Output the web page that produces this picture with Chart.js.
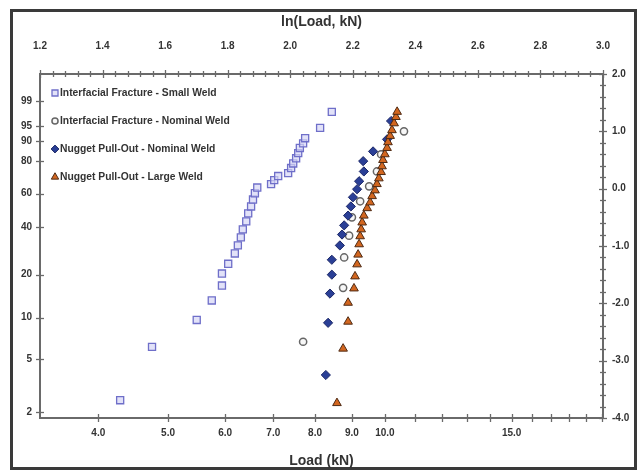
<!DOCTYPE html>
<html>
<head>
<meta charset="utf-8">
<script src="https://cdn.jsdelivr.net/npm/chart.js@4/dist/chart.umd.min.js"></script>
<style>
  html, body { margin: 0; padding: 0; background: #fff; }
  #wrap { position: relative; width: 643px; height: 476px; }
  #frame { position: absolute; left: 10px; top: 9px; width: 621px; height: 455px; border: 3px solid #3a3a3a; }
  canvas { position: absolute; left: 0; top: 0; }
</style>
</head>
<body>
<div id="wrap">
  <div id="frame"></div>
  <canvas id="weibull" width="643" height="476"></canvas>
</div>
<script>
// Failure loads (kN) and Weibull ordinate ln(-ln(1-F)) for each weld group
const ifSmallLoad = [4.29, 4.75, 5.48, 5.75, 5.94, 5.94, 6.06, 6.19, 6.25, 6.31, 6.35, 6.42, 6.46, 6.52, 6.56,
                     6.60, 6.65, 6.95, 7.02, 7.11, 7.34, 7.41, 7.46, 7.53, 7.58, 7.62, 7.70, 7.75, 8.13, 8.44];
const ifSmallW    = [-3.69, -2.76, -2.29, -1.95, -1.69, -1.48, -1.31, -1.13, -0.99, -0.85, -0.71, -0.57, -0.43, -0.31, -0.19,
                     -0.08, 0.02, 0.08, 0.15, 0.22, 0.27, 0.36, 0.44, 0.53, 0.62, 0.71, 0.79, 0.88, 1.06, 1.34];

const ifNominalLoad = [7.70, 8.75, 8.78, 8.92, 9.00, 9.24, 9.51, 9.75, 9.88, 10.63];
const ifNominalW    = [-2.67, -1.73, -1.20, -0.82, -0.50, -0.22, 0.04, 0.30, 0.60, 1.00];

const poNominalLoad = [8.28, 8.34, 8.39, 8.44, 8.44, 8.66, 8.72, 8.78, 8.89, 8.97, 9.03, 9.15, 9.21, 9.35, 9.33,
                       9.63, 10.07, 10.20];
const poNominalW    = [-3.25, -2.34, -1.83, -1.50, -1.24, -0.99, -0.80, -0.64, -0.47, -0.31, -0.15, -0.01, 0.13, 0.30, 0.48,
                       0.65, 0.86, 1.18];

const poLargeLoad = [8.58, 8.75, 8.89, 8.89, 9.06, 9.09, 9.15, 9.18, 9.21, 9.24, 9.27, 9.30, 9.35, 9.45, 9.54,
                     9.60, 9.69, 9.75, 9.81, 9.88, 9.91, 9.94, 10.00, 10.07, 10.10, 10.17, 10.23, 10.30, 10.36, 10.40];
const poLargeW    = [-3.74, -2.79, -2.32, -1.99, -1.74, -1.53, -1.32, -1.15, -0.97, -0.83, -0.71, -0.59, -0.47, -0.34, -0.24,
                     -0.13, -0.03, 0.08, 0.18, 0.29, 0.39, 0.50, 0.60, 0.71, 0.81, 0.92, 1.02, 1.14, 1.25, 1.34];

// Axis ticks
const loadTicks = [4, 5, 6, 7, 8, 9, 10, 11, 12, 13, 14, 15, 16, 17, 18, 19, 20];
const loadTickLabels = [4, 5, 6, 7, 8, 9, 10, 15];
const percentTicks = [2, 5, 10, 20, 40, 60, 80, 90, 95, 99];
const lnMin = 1.2, lnMax = 3.0, lnStep = 0.04;
const wMin = -4.0, wMax = 2.0, wStep = 0.2;

const FONT = '"Liberation Sans", Arial, sans-serif';
const TEXT = '#333';

const toPoints = (loads, w) => loads.map((L, i) => ({ x: Math.log(L), y: w[i] }));
const weibullOf = p => Math.log(-Math.log(1 - p / 100));
const near = (a, b) => Math.abs(a - b) < 1e-6;

function crossLine(ctx, x1, y1, x2, y2) {
  ctx.beginPath(); ctx.moveTo(x1, y1); ctx.lineTo(x2, y2); ctx.stroke();
}

// Tick marks that straddle each axis line
const crossTicks = {
  id: 'crossTicks',
  afterDraw(chart) {
    const { ctx, chartArea: a, scales: s } = chart;
    ctx.save();
    ctx.strokeStyle = '#6a6a6a';
    ctx.lineWidth = 1.3;
    s.x.ticks.forEach(t => {
      const px = Math.round(s.x.getPixelForValue(t.value)) + 0.5;
      crossLine(ctx, px, a.bottom - 4, px, a.bottom + 4);
    });
    s.xTop.ticks.forEach((t, i) => {
      const px = Math.round(s.xTop.getPixelForValue(t.value)) + 0.5;
      const len = i % 5 === 0 ? 4 : 3;
      crossLine(ctx, px, a.top - len, px, a.top + len);
    });
    s.yL.ticks.forEach(t => {
      const py = Math.round(s.yL.getPixelForValue(t.value)) + 0.5;
      crossLine(ctx, a.left - 4, py, a.left + 4, py);
    });
    s.yR.ticks.forEach((t, i) => {
      const py = Math.round(s.yR.getPixelForValue(t.value)) + 0.5;
      const len = i % 5 === 0 ? 4 : 3;
      crossLine(ctx, a.right - len, py, a.right + len, py);
    });
    ctx.restore();
  }
};

// Legend inside the upper-left corner of the plot
const insetLegend = {
  id: 'insetLegend',
  afterDatasetsDraw(chart) {
    const { ctx, chartArea: a } = chart;
    chart.data.datasets.forEach((ds, i) => {
      const x = a.left + 15;
      const y = a.top + 19 + i * 28;
      ctx.save();
      ctx.fillStyle = ds.backgroundColor;
      ctx.strokeStyle = ds.borderColor;
      ctx.lineWidth = ds.borderWidth;
      Chart.helpers.drawPoint(ctx, { pointStyle: ds.pointStyle, radius: ds.pointRadius * 0.85, rotation: 0, borderWidth: ds.borderWidth }, x, y);
      ctx.fillStyle = TEXT;
      ctx.font = 'bold 10.3px ' + FONT;
      ctx.textBaseline = 'middle';
      ctx.textAlign = 'left';
      ctx.fillText(ds.label, x + 5, y);
      ctx.restore();
    });
  }
};

const tickFont = { family: FONT, size: 10, weight: 'bold' };
const axisBorder = { display: true, color: '#6a6a6a', width: 2 };
const noGrid = { display: false, drawTicks: false, tickLength: 0 };

new Chart(document.getElementById('weibull'), {
  type: 'scatter',
  data: {
    datasets: [
      {
        label: 'Interfacial Fracture - Small Weld',
        data: toPoints(ifSmallLoad, ifSmallW),
        pointStyle: 'rect', pointRadius: 5, borderWidth: 1.3,
        borderColor: '#6f6fc9', backgroundColor: 'rgba(214,214,245,0.7)',
        xAxisID: 'x', yAxisID: 'yR', order: 3
      },
      {
        label: 'Interfacial Fracture - Nominal Weld',
        data: toPoints(ifNominalLoad, ifNominalW),
        pointStyle: 'circle', pointRadius: 3.6, borderWidth: 1.5,
        borderColor: '#666', backgroundColor: 'rgba(245,245,245,0.8)',
        xAxisID: 'x', yAxisID: 'yR', order: 2
      },
      {
        label: 'Nugget Pull-Out - Nominal Weld',
        data: toPoints(poNominalLoad, poNominalW),
        pointStyle: 'rectRot', pointRadius: 4.6, borderWidth: 1,
        borderColor: '#1c2766', backgroundColor: '#2a3f96',
        xAxisID: 'x', yAxisID: 'yR', order: 1
      },
      {
        label: 'Nugget Pull-Out - Large Weld',
        data: toPoints(poLargeLoad, poLargeW),
        pointStyle: 'triangle', pointRadius: 5, borderWidth: 1,
        borderColor: '#4e2a14', backgroundColor: '#d2661f',
        xAxisID: 'x', yAxisID: 'yR', order: 0
      }
    ]
  },
  options: {
    responsive: false,
    animation: false,
    devicePixelRatio: 1,
    layout: { padding: 0 },
    plugins: { legend: { display: false }, tooltip: { enabled: false } },
    scales: {
      x: {
        type: 'linear', position: 'bottom', min: lnMin, max: lnMax,
        grid: noGrid, border: axisBorder,
        afterBuildTicks: s => { s.ticks = loadTicks.map(v => ({ value: Math.log(v) })); },
        afterFit: s => { s.height = 58; },
        ticks: {
          autoSkip: false, maxRotation: 0, padding: 9, color: TEXT, font: tickFont,
          callback: v => {
            const L = Math.exp(v);
            const hit = loadTickLabels.find(t => Math.abs(t - L) < 1e-6);
            return hit ? hit.toFixed(1) : '';
          }
        },
        title: { display: true, text: 'Load (kN)', color: TEXT, font: { family: FONT, size: 14, weight: 'bold' }, padding: { bottom: 6 } }
      },
      xTop: {
        type: 'linear', position: 'top', min: lnMin, max: lnMax,
        grid: noGrid, border: axisBorder,
        afterBuildTicks: s => {
          const n = Math.round((lnMax - lnMin) / lnStep);
          s.ticks = Array.from({ length: n + 1 }, (_, k) => ({ value: +(lnMin + k * lnStep).toFixed(2) }));
        },
        afterFit: s => { s.height = 74; },
        ticks: {
          autoSkip: false, maxRotation: 0, padding: 22, color: TEXT, font: tickFont,
          callback: (v, i) => (i % 5 === 0 ? v.toFixed(1) : '')
        },
        title: { display: true, text: 'ln(Load, kN)', color: TEXT, font: { family: FONT, size: 14, weight: 'bold' }, padding: { top: 14 } }
      },
      yL: {
        type: 'linear', position: 'left', min: wMin, max: wMax,
        grid: noGrid, border: axisBorder,
        afterBuildTicks: s => { s.ticks = percentTicks.map(p => ({ value: weibullOf(p) })); },
        afterFit: s => { s.width = 40; },
        ticks: {
          autoSkip: false, padding: 8, color: TEXT, font: tickFont,
          callback: (v, i) => String(percentTicks[i])
        }
      },
      yR: {
        type: 'linear', position: 'right', min: wMin, max: wMax,
        grid: noGrid, border: axisBorder,
        afterBuildTicks: s => {
          const n = Math.round((wMax - wMin) / wStep);
          s.ticks = Array.from({ length: n + 1 }, (_, k) => ({ value: +(wMin + k * wStep).toFixed(1) }));
        },
        afterFit: s => { s.width = 40; },
        ticks: {
          autoSkip: false, padding: 9, color: TEXT, font: tickFont,
          callback: v => (near(v, Math.round(v)) ? v.toFixed(1) : '')
        }
      }
    }
  },
  plugins: [crossTicks, insetLegend]
});
</script>
</body>
</html>
